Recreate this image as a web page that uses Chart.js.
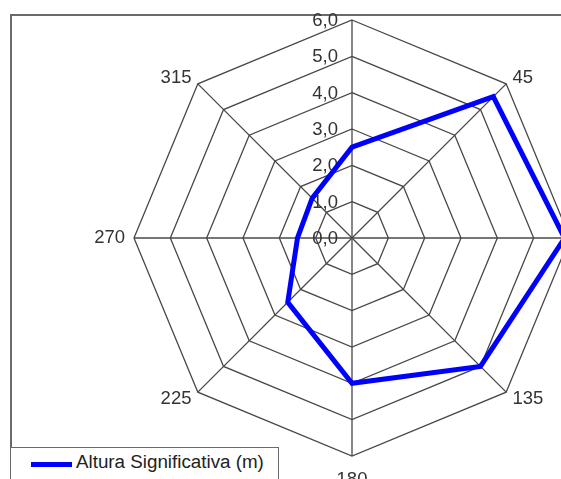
<!DOCTYPE html>
<html>
<head>
<meta charset="utf-8">
<script src="https://cdn.jsdelivr.net/npm/chart.js@4"></script>
<style>
    body { margin: 0; background: #fff; }
    #wrap { position: relative; width: 561px; height: 479px; overflow: hidden; }
    #frame { position: absolute; left: 10px; top: 14px; width: 700px; height: 600px;
             border-left: 2px solid #6a6a6a; border-top: 2px solid #6a6a6a; }
    #chart { position: absolute; left: 0; top: 0; }
    #legend { position: absolute; left: 10px; top: 447px; width: 267px; height: 60px;
              border: 1px solid #6a6a6a; background: #fff;
              font: 18.8px "Liberation Sans", Arial, sans-serif; color: #222; }
    #legend span.sw { position: absolute; left: 20px; top: 14px; width: 41px; height: 5px; }
    #legend span.txt { position: absolute; left: 65px; top: 3px; white-space: nowrap; }
</style>
</head>
<body>
<div id="wrap">
    <div id="frame"></div>
    <canvas id="chart" width="704" height="520"></canvas>
    <div id="legend"></div>
</div>
<script>
// direction sectors (degrees)
const directions = ['0', '45', '90', '135', '180', '225', '270', '315'];
// significant wave height per sector
const alturaValues = [2.5, 5.5, 5.85, 5.0, 4.0, 2.5, 1.5, 1.55];
const seriesName = 'Altura Significativa (m)';
const tickLabels = ['0,0', '1,0', '2,0', '3,0', '4,0', '5,0', '6,0'];

const textFont = '18.5px "Liberation Sans", Arial, sans-serif';
const textColor = '#333';

// tick labels, drawn left of the vertical axis, under the line
const tickLabelPlugin = {
    id: 'tickLabelPlugin',
    beforeDatasetsDraw(chart) {
        const s = chart.scales.r;
        const ctx = chart.ctx;
        ctx.save();
        ctx.font = textFont;
        ctx.fillStyle = textColor;
        ctx.textAlign = 'right';
        ctx.textBaseline = 'middle';
        s.ticks.forEach((t, i) => {
            const d = s.getDistanceFromCenterForValue(t.value);
            ctx.fillText(tickLabels[i], s.xCenter - 14, s.yCenter - d + 1);
        });
        ctx.restore();
    }
};

// direction labels outside the outer ring
const dirLabelPlugin = {
    id: 'dirLabelPlugin',
    afterDraw(chart) {
        const s = chart.scales.r;
        const ctx = chart.ctx;
        ctx.save();
        ctx.font = textFont;
        ctx.fillStyle = textColor;
        for (let i = 0; i < directions.length; i++) {
            if (i === 0) continue; // above the frame, not shown
            const p = s.getPointPosition(i, s.drawingArea + 9);
            const dx = p.x - s.xCenter;
            const dy = p.y - s.yCenter;
            ctx.textAlign = Math.abs(dx) < 1 ? 'center' : (dx > 0 ? 'left' : 'right');
            ctx.textBaseline = Math.abs(dx) < 1 ? (dy > 0 ? 'top' : 'bottom') : 'middle';
            ctx.fillText(directions[i], p.x, p.y + (Math.abs(dx) < 1 ? 6 : 0));
        }
        ctx.restore();
    }
};

const ctx = document.getElementById('chart');
const chart = new Chart(ctx, {
    type: 'radar',
    data: {
        labels: directions,
        datasets: [{
            label: seriesName,
            data: alturaValues,
            borderColor: '#0000ff',
            backgroundColor: 'rgba(0,0,0,0)',
            borderWidth: 5,
            pointRadius: 0,
            fill: false,
            tension: 0
        }]
    },
    options: {
        responsive: false,
        animation: false,
        devicePixelRatio: 1,
        layout: { padding: { top: 20, bottom: 64, left: 0, right: 0 } },
        plugins: {
            legend: { display: false },
            tooltip: { enabled: false }
        },
        scales: {
            r: {
                min: 0,
                max: 6,
                ticks: {
                    stepSize: 1,
                    display: false,
                    callback: (v, i) => tickLabels[i]
                },
                pointLabels: { display: false },
                grid: { color: '#484848', lineWidth: 1.3, circular: false },
                angleLines: { color: '#484848', lineWidth: 1.3 }
            }
        }
    },
    plugins: [tickLabelPlugin, dirLabelPlugin]
});

// legend box
const lg = document.getElementById('legend');
const ds = chart.data.datasets[0];
lg.innerHTML = '<span class="sw" style="background:' + ds.borderColor + '"></span>' +
    '<span class="txt">' + ds.label + '</span>';
</script>
</body>
</html>
